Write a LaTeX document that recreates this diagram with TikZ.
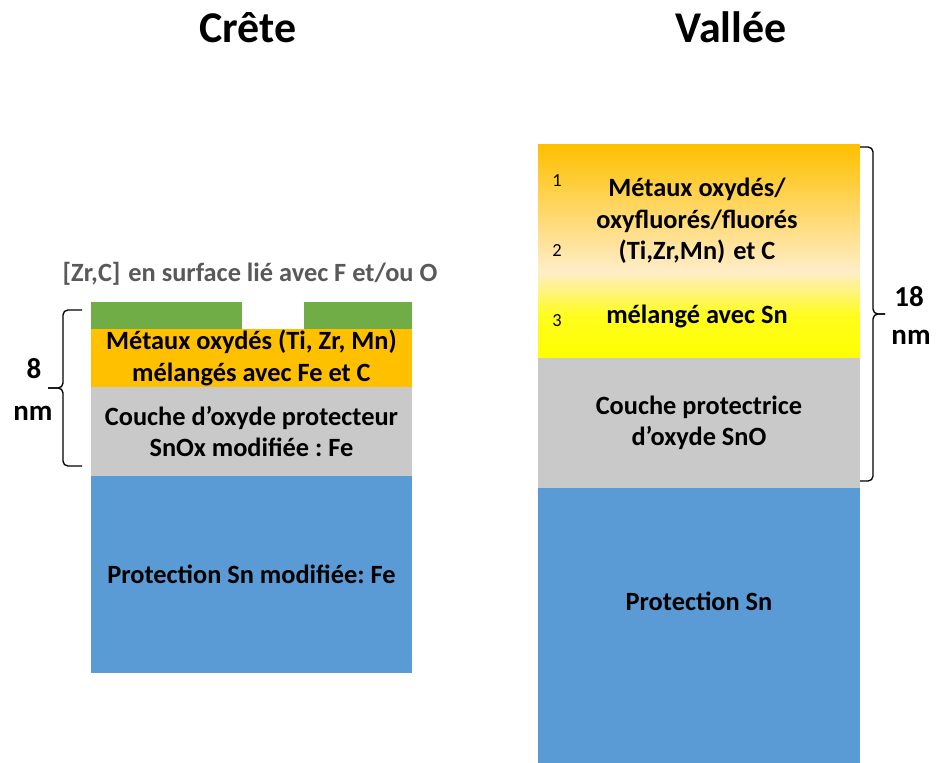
\documentclass[tikz,border=0pt]{standalone}
\usepackage{fontspec}
\setmainfont{Carlito}
\frenchspacing
\usetikzlibrary{positioning}
\definecolor{layerGreen}{HTML}{70AD47}
\definecolor{layerOrange}{HTML}{FFC000}
\definecolor{layerCream}{HTML}{FFEDC8}
\definecolor{layerYellow}{HTML}{FFFF00}
\definecolor{layerGray}{HTML}{C9C9C9}
\definecolor{layerBlue}{HTML}{5B9BD5}
\definecolor{labelGray}{HTML}{595959}

\begin{document}
\begin{tikzpicture}[
      x=0.02cm, y=-0.02cm,
      every node/.style={font=\fontsize{15}{18}\selectfont\bfseries},
      layer/.style={inner sep=0pt, outer sep=0pt, align=center},
      title/.style={font=\fontsize{25}{29}\selectfont\bfseries},
      thick/.style={font=\fontsize{16.5}{20}\selectfont\bfseries},
      num/.style={font=\fontsize{10.5}{12}\selectfont},
      bracket/.style={draw, line width=0.75pt, rounded corners=2.8pt},
    ]
      \useasboundingbox (0,0) rectangle (939,763);

      % Crete
      \node[title, anchor=base] (tCrete) at (248,43) {Crête};
      \node[layer, fill=layerOrange, minimum width=6.42cm, minimum height=1.16cm,
            anchor=north west] (cOxide) at (91,329)
            {Métaux oxydés (Ti, Zr, Mn)\\mélangés avec Fe et C};
      \node[layer, fill=layerGray, minimum width=6.42cm, minimum height=1.78cm,
            below=0pt of cOxide] (cSnOx)
            {Couche d’oxyde protecteur\\SnOx modifiée : Fe};
      \node[layer, fill=layerBlue, minimum width=6.42cm, minimum height=3.94cm,
            below=0pt of cSnOx] (cSn) {Protection Sn modifiée: Fe};
      \node[layer, fill=layerGreen, minimum width=3.02cm, minimum height=0.54cm,
            above right=0pt and 0pt of cOxide.north west] (cZrLeft) {};
      \node[layer, fill=layerGreen, minimum width=2.16cm, minimum height=0.54cm,
            above left=0pt and 0pt of cOxide.north east] (cZrRight) {};
      \node[text=labelGray, anchor=base] (cSurface) at (250,282)
            {[Zr,C]\hspace{0.3em}en surface lié avec F et/ou O};

      \coordinate (lbTop) at (82,310);
      \coordinate (lbBot) at (82,466);
      \coordinate (lbTip) at (48,388);
      \draw[bracket] (lbTop) -- (63,310) -- (63,388) -- (lbTip);
      \draw[bracket] (lbBot) -- (63,466) -- (63,388) -- (lbTip);
      \node[thick, anchor=base] (lbValue) at (34,378) {8};
      \node[thick, anchor=base] (lbUnit)  at (33,420) {nm};

      % Vallee
      \node[title, anchor=base] (tVallee) at (731,43) {Vallée};
      \node[layer, top color=layerOrange, bottom color=layerCream,
            minimum width=6.44cm, minimum height=2.54cm,
            anchor=north west] (vMetal) at (538,145) {};
      \node[layer, top color=layerCream, bottom color=layerYellow,
            middle color=layerYellow!85!layerCream,
            minimum width=6.44cm, minimum height=1.72cm,
            below=0pt of vMetal] (vMix) {};
      \node[layer, fill=layerGray, minimum width=6.44cm, minimum height=2.6cm,
            below=0pt of vMix] (vSnO) {Couche protectrice\\d’oxyde SnO};
      \node[layer, fill=layerBlue, minimum width=6.44cm, minimum height=5.5cm,
            below=0pt of vSnO] (vSn) {};
      \node (vSnText) at (699,601) {Protection Sn};
      \node[align=center] (vMetalText) at (697,221)
            {Métaux oxydés/\\oxyfluorés/fluorés\\(Ti,Zr,Mn)\hspace{0.3em}et C};
      \node (vMixText) at (697,316) {mélangé avec Sn};
      \node[num] (vOne)   at (557,181) {1};
      \node[num] (vTwo)   at (557,251) {2};
      \node[num] (vThree) at (557,321) {3};

      \coordinate (rbTop) at (860,147);
      \coordinate (rbBot) at (860,481);
      \coordinate (rbTip) at (885,314);
      \draw[bracket] (rbTop) -- (873,147) -- (873,314) -- (rbTip);
      \draw[bracket] (rbBot) -- (873,481) -- (873,314) -- (rbTip);
      \node[thick, anchor=base] (rbValue) at (909,307) {18};
      \node[thick, anchor=base] (rbUnit)  at (911,344) {nm};
    \end{tikzpicture}
\end{document}
